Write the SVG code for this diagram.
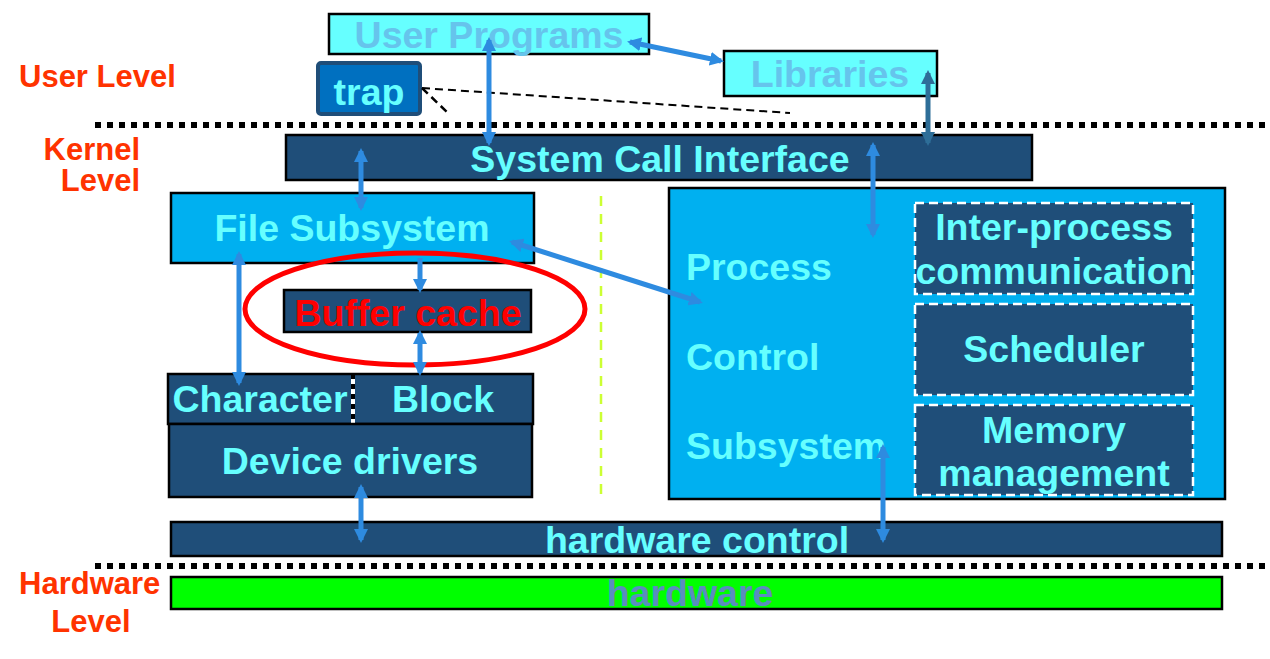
<svg xmlns="http://www.w3.org/2000/svg" width="1270" height="659" viewBox="0 0 1270 659">
<style>
text{font-family:"Liberation Sans",Arial,sans-serif;font-weight:bold}
.t{font-size:37.5px;fill:#66FFFF;text-anchor:middle}
.lvl{font-size:31px;fill:#FF3300}
.dk{fill:#1F4E79;stroke:#000;stroke-width:2.5}
.lt{fill:#00B0F0;stroke:#000;stroke-width:2.5}
.inner{fill:#1F4E79;stroke:#fff;stroke-width:2.5;stroke-dasharray:9 5}
.ar{stroke:#2E8BE0;stroke-width:5;fill:none}
.sep{stroke:#000;stroke-width:6;stroke-dasharray:6 6}
</style>
<defs>
<marker id="ah" markerUnits="userSpaceOnUse" markerWidth="14" markerHeight="14" refX="11" refY="7" orient="auto-start-reverse" viewBox="0 0 14 14">
<path d="M0,0 L14,7 L0,14 z" fill="#2E8BE0"/>
</marker>
<marker id="ah2" markerUnits="userSpaceOnUse" markerWidth="14" markerHeight="14" refX="11" refY="7" orient="auto-start-reverse" viewBox="0 0 14 14">
<path d="M0,0 L14,7 L0,14 z" fill="#2E6E98"/>
</marker>
</defs>
<rect width="1270" height="659" fill="#fff"/>
<g id="levels">
<text class="lvl" x="19" y="87">User Level</text>
<text class="lvl" x="140" y="160" text-anchor="end">Kernel</text>
<text class="lvl" x="140" y="191" text-anchor="end">Level</text>
<text class="lvl" x="19" y="594">Hardware</text>
<text class="lvl" x="91" y="632" text-anchor="middle">Level</text>
<line class="sep" x1="95" y1="125" x2="1265" y2="125"/>
<line class="sep" x1="95" y1="566" x2="1265" y2="566"/>
<line x1="601" y1="196" x2="601" y2="497" stroke="#CCFF33" stroke-width="2.5" stroke-dasharray="10 8"/>
</g>
<g id="user-programs">
<rect x="329" y="14" width="320" height="40" fill="#66FFFF" stroke="#000" stroke-width="2.5"/>
<text class="t" x="489" y="48" style="fill:#66C4EC">User Programs</text>
</g>
<g id="libraries">
<rect x="724" y="51" width="213" height="45" fill="#66FFFF" stroke="#000" stroke-width="2.5"/>
<text class="t" x="830" y="87" style="fill:#66C4EC">Libraries</text>
</g>
<g id="trap">
<rect x="318" y="63" width="102" height="51" rx="3" fill="#0070C0" stroke="#1F4E79" stroke-width="4"/>
<text class="t" x="369" y="105">trap</text>
</g>
<g id="system-call-interface">
<rect class="dk" x="286" y="135" width="746" height="45"/>
<text class="t" x="660" y="172">System Call Interface</text>
</g>
<g id="file-subsystem">
<rect class="lt" x="171" y="193" width="363" height="70"/>
<text class="t" x="352" y="241">File Subsystem</text>
</g>
<g id="buffer-cache">
<rect class="dk" x="284" y="290" width="247" height="42"/>
<text class="t" x="408" y="326" style="fill:#FF0000">Buffer cache</text>
<ellipse cx="415" cy="309" rx="170" ry="56" fill="none" stroke="#FF0000" stroke-width="5"/>
</g>
<g id="character-block">
<rect class="dk" x="168" y="374" width="365" height="50"/>
<line x1="353" y1="374" x2="353" y2="424" stroke="#fff" stroke-width="4"/>
<line x1="353" y1="374" x2="353" y2="424" stroke="#000" stroke-width="4" stroke-dasharray="5 5"/>
<text class="t" x="260" y="412">Character</text>
<text class="t" x="443" y="412">Block</text>
</g>
<g id="device-drivers">
<rect class="dk" x="169" y="424" width="363" height="73"/>
<text class="t" x="350" y="474">Device drivers</text>
</g>
<g id="process-control">
<rect class="lt" x="669" y="188" width="556" height="311"/>
<text class="t" x="686" y="280" style="text-anchor:start">Process</text>
<text class="t" x="686" y="370" style="text-anchor:start">Control</text>
<text class="t" x="686" y="459" style="text-anchor:start">Subsystem</text>
</g>
<g id="ipc">
<rect class="inner" x="915" y="203" width="278" height="91"/>
<text class="t" x="1054" y="240">Inter-process</text>
<text class="t" x="1054" y="284">communication</text>
</g>
<g id="scheduler">
<rect class="inner" x="915" y="304" width="278" height="91"/>
<text class="t" x="1054" y="362">Scheduler</text>
</g>
<g id="memory">
<rect class="inner" x="915" y="405" width="278" height="90"/>
<text class="t" x="1054" y="443">Memory</text>
<text class="t" x="1054" y="486">management</text>
</g>
<g id="hardware-control">
<rect class="dk" x="171" y="522" width="1051" height="34"/>
<text class="t" x="697" y="553">hardware control</text>
</g>
<g id="hardware">
<rect x="171" y="577" width="1051" height="32" fill="#00FF00" stroke="#000" stroke-width="2.5"/>
<text class="t" x="690" y="606" style="fill:#5B8DBE">hardware</text>
</g>
<g id="connectors">
<line x1="422" y1="88" x2="448" y2="113" stroke="#000" stroke-width="2.5" stroke-dasharray="8 5"/>
<line x1="422" y1="88" x2="790" y2="113" stroke="#000" stroke-width="2" stroke-dasharray="8 5"/>
<line class="ar" x1="630" y1="42" x2="721" y2="61" marker-start="url(#ah)" marker-end="url(#ah)"/>
<line class="ar" x1="489" y1="40" x2="489" y2="143" marker-start="url(#ah)" marker-end="url(#ah)"/>
<line x1="928" y1="73" x2="928" y2="143" stroke="#2E6E98" stroke-width="5" marker-start="url(#ah2)" marker-end="url(#ah2)"/>
<line class="ar" x1="361" y1="151" x2="361" y2="208" marker-start="url(#ah)" marker-end="url(#ah)"/>
<line class="ar" x1="873" y1="145" x2="873" y2="235" marker-start="url(#ah)" marker-end="url(#ah)"/>
<line class="ar" x1="420" y1="258" x2="420" y2="290" marker-end="url(#ah)"/>
<line class="ar" x1="420" y1="333" x2="420" y2="373" marker-start="url(#ah)" marker-end="url(#ah)"/>
<line class="ar" x1="239" y1="254" x2="239" y2="383" marker-start="url(#ah)" marker-end="url(#ah)"/>
<line class="ar" x1="512" y1="242" x2="700" y2="302" marker-start="url(#ah)" marker-end="url(#ah)"/>
<line class="ar" x1="361" y1="487" x2="361" y2="540" marker-start="url(#ah)" marker-end="url(#ah)"/>
<line class="ar" x1="883" y1="447" x2="883" y2="540" marker-start="url(#ah)" marker-end="url(#ah)"/>
</g>
</svg>
